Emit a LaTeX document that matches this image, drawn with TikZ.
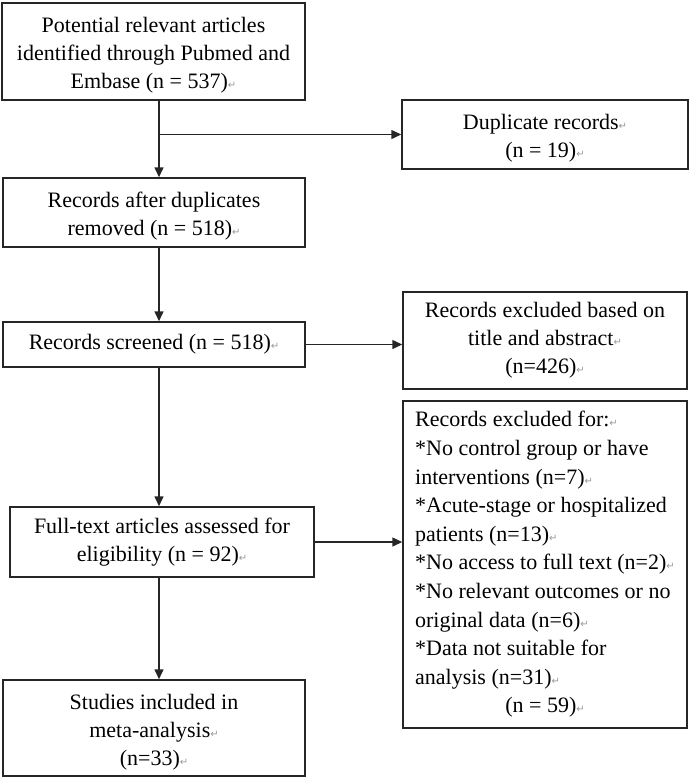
\documentclass[tikz,border=0pt]{standalone}
\usepackage{fontspec}
\setmainfont{Liberation Serif}
\newfontfamily\djv{DejaVu Sans}
\usetikzlibrary{arrows.meta}
\newcommand\retmark{{\djv\fontsize{10}{10}\selectfont\color{black!40}↵}}
\newcommand\lift{\rule{0pt}{23pt}}
\begin{document}
\begin{tikzpicture}[x=1pt,y=-1pt,
  box/.style={draw=black!85, line width=1.5pt, align=center, inner sep=0pt,
    font=\fontsize{22}{28}\selectfont},
  conn/.style={draw=black!85, line width=1.5pt, -{Triangle[length=10pt,width=9pt]}}]
\useasboundingbox (0,0) rectangle (690,777);
\node[box, minimum width=303pt, minimum height=97pt] (b1) at (153.5,51.5)
  {\lift Potential relevant articles\\identified through Pubmed and\\Embase (n = 537)\retmark};
\node[box, minimum width=286pt, minimum height=69pt] (dup) at (545,134.5)
  {\lift Duplicate records\retmark\\(n = 19)\retmark};
\node[box, minimum width=302pt, minimum height=69pt] (b2) at (154,212.5)
  {\lift Records after duplicates\\removed (n = 518)\retmark};
\node[box, minimum width=302pt, minimum height=45pt] (scr) at (154,344.5)
  {Records screened (n = 518)\retmark};
\node[box, minimum width=284pt, minimum height=97pt] (ex1) at (545,340.5)
  {Records excluded based on\\title and abstract\retmark\\(n=426)\retmark};
\node[box, minimum width=304pt, minimum height=70pt] (ft) at (162,542)
  {Full-text articles assessed for\\eligibility (n = 92)\retmark};
\node[box, minimum width=284pt, minimum height=327pt, align=left,
  font=\fontsize{22}{28.6}\selectfont] (ex2) at (545,564.5)
  {Records excluded for:\retmark\\
   {}*No control group or have\\
   interventions (n=7)\retmark\\
   {}*Acute-stage or hospitalized\\
   patients (n=13)\retmark\\
   {}*No access to full text (n=2)\retmark\\
   {}*No relevant outcomes or no\\
   original data (n=6)\retmark\\
   {}*Data not suitable for\\
   analysis (n=31)\retmark\\
   \hfill(n = 59)\retmark\hfill\hbox{}};
\node[box, minimum width=302pt, minimum height=96pt] (st) at (154,728)
  {\lift Studies included in\\meta-analysis\retmark\\(n=33)\retmark};
\coordinate (spine) at (159,0);
\draw[conn] (b1.south -| spine) -- (b2.north -| spine);
\draw[conn] (dup.west -| spine) -- (dup.west);
\draw[conn] (b2.south -| spine) -- (scr.north -| spine);
\draw[conn] (scr.east) -- (scr.east -| ex1.west);
\draw[conn] (scr.south -| spine) -- (ft.north -| spine);
\draw[conn] (ft.east) -- (ft.east -| ex2.west);
\draw[conn] (ft.south -| spine) -- (st.north -| spine);
\end{tikzpicture}
\end{document}
